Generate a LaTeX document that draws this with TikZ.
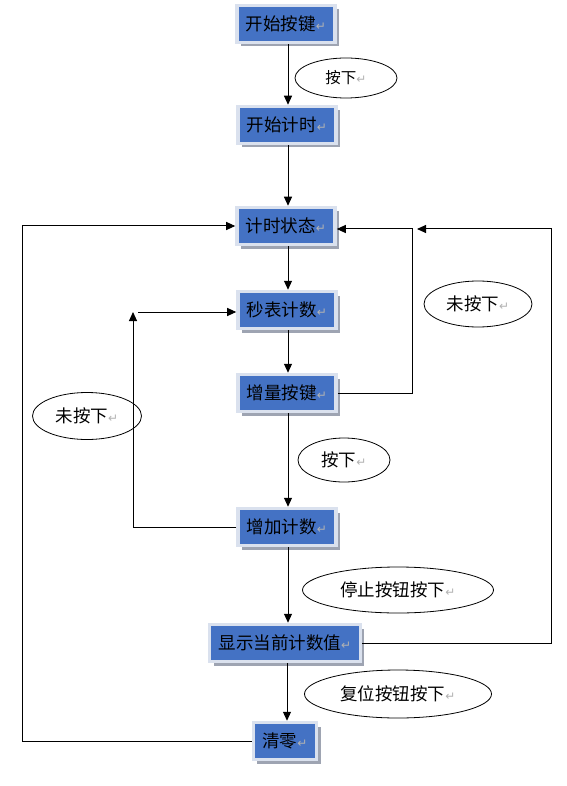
\documentclass[tikz,border=0pt]{standalone}
\usepackage{fontspec}
\setmainfont{Noto Sans CJK SC}
\newfontfamily\symfont{DejaVu Sans}
\usetikzlibrary{shapes.geometric,arrows.meta,shadows}
\definecolor{boxblue}{RGB}{68,114,196}
\definecolor{boxframe}{RGB}{218,225,238}
\definecolor{boxshadow}{RGB}{158,164,178}
\newcommand{\retmark}{{\symfont\color{gray!60}\fontsize{12}{12}\selectfont ↵}}
\begin{document}
\begin{tikzpicture}[x=1pt,y=-1pt,
  box/.style={rectangle, fill=boxblue, draw=boxframe, line width=3.5pt,
    minimum height=37pt, inner xsep=9pt, text=black,
    font=\fontsize{17.5}{19}\selectfont,
    drop shadow={shadow xshift=4pt, shadow yshift=-4pt, fill=boxshadow, opacity=1}},
  oval/.style={ellipse, draw=black, line width=0.8pt, inner sep=0pt,
    font=\fontsize{17.5}{19}\selectfont},
  arr/.style={draw=black, line width=1pt, -{Triangle[length=9pt,width=8pt]}},
  ln/.style={draw=black!85, line width=1pt}]
\useasboundingbox (0,0) rectangle (566,786);

% boxes
\node[box] (b1) at (286,24)  {开始按键\retmark};
\node[box] (b2) at (287,125) {开始计时\retmark};
\node[box] (b3) at (286,226) {计时状态\retmark};
\node[box] (b4) at (287,310) {秒表计数\retmark};
\node[box] (b5) at (287,393) {增量按键\retmark};
\node[box] (b6) at (287,527) {增加计数\retmark};
\node[box] (b7) at (285,643) {显示当前计数值\retmark};
\node[box] (b8) at (285,741) {清零\retmark};

% labels
\node[oval, minimum width=102pt, minimum height=40pt, font=\fontsize{15.5}{17}\selectfont] (e1) at (346,78) {按下\retmark};
\node[oval, minimum width=108pt, minimum height=46pt] (e2) at (478,304) {未按下\retmark};
\node[oval, minimum width=109pt, minimum height=47pt] (e3) at (87,416) {未按下\retmark};
\node[oval, minimum width=92pt, minimum height=44pt] (e4) at (344,460) {按下\retmark};
\node[oval, minimum width=191pt, minimum height=46pt] (e5) at (398,590) {停止按钮按下\retmark};
\node[oval, minimum width=187pt, minimum height=48pt] (e6) at (398,694) {复位按钮按下\retmark};

% helper points
\coordinate (cL)  at (22,226);
\coordinate (cI)  at (133,312);
\coordinate (cI2) at (138,312);
\coordinate (cR1) at (412,229);
\coordinate (cR2) at (551,229);
\coordinate (cR2b) at (417,229);

% main flow
\draw[arr] ([xshift=2pt]b1.south) -- ([xshift=1pt]b2.north);
\draw[arr] ([xshift=1pt]b2.south) -- ([xshift=2pt]b3.north);
\draw[arr] ([xshift=2pt]b3.south) -- ([xshift=1pt]b4.north);
\draw[arr] ([xshift=1pt]b4.south) -- ([xshift=1pt]b5.north);
\draw[arr] ([xshift=1pt]b5.south) -- ([xshift=1pt]b6.north);
\draw[arr] ([xshift=1pt]b6.south) -- ([xshift=3pt]b7.north);
\draw[arr] ([xshift=2pt]b7.south) -- ([xshift=2pt]b8.north);

% loops
\draw[arr] (b8.west) -| (cL) -- (b3.west);
\draw[arr] (b6.west) -| (cI);
\draw[arr] (cI2) -- (b4.west |- cI2);
\draw[arr] (b5.east) -| (cR1) -- (b3.east |- cR1);
\draw[arr] (b7.east) -| (cR2) -- (cR2b);
\end{tikzpicture}
\end{document}
